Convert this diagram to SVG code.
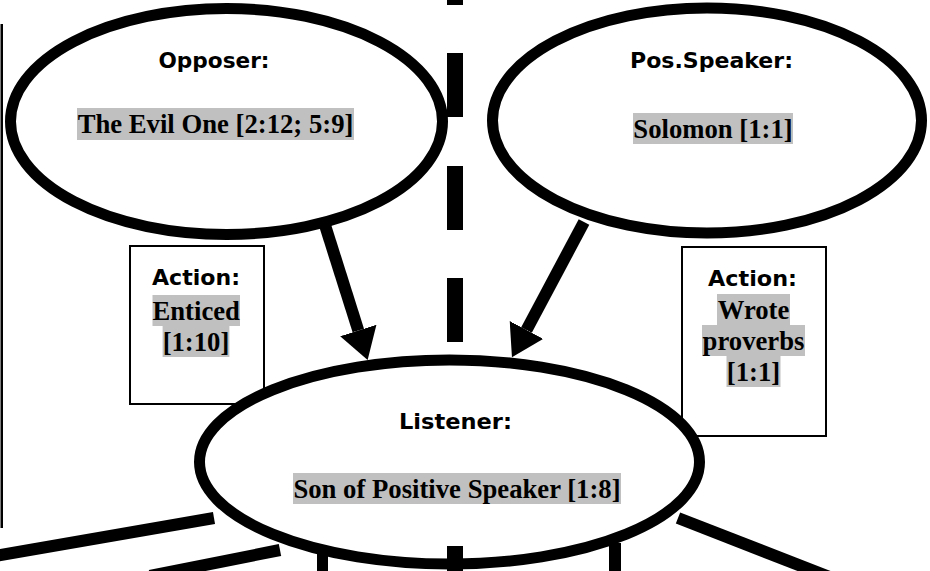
<svg xmlns="http://www.w3.org/2000/svg" width="930" height="571" viewBox="0 0 930 571">
<style>
.ell{fill:#fff;stroke:#000;stroke-width:11}
.box{fill:#fff;stroke:#000;stroke-width:2}
.lbl{font-family:'DejaVu Sans','Liberation Sans',sans-serif;font-weight:bold;font-size:22px;fill:#000;text-anchor:middle}
.val{font-family:'Liberation Serif','Times New Roman',serif;font-weight:bold;font-size:26.7px;fill:#000;text-anchor:middle}
.hl{fill:#c0c0c0}
.thick{stroke:#000;stroke-width:12;fill:none}
.dash{fill:#000}
</style>
<defs>
<marker id="ah" markerUnits="userSpaceOnUse" markerWidth="31" markerHeight="38" refX="0" refY="19" orient="auto" viewBox="0 0 31 38"><path d="M0,0 L31,19 L0,38 z" fill="#000"/></marker>
</defs>
<rect x="0" y="0" width="930" height="571" fill="#fff"/>
<g id="dividers">
<rect x="0.5" y="24" width="2.5" height="504" fill="#000"/>
<rect class="dash" x="447" y="0" width="16" height="5"/>
<rect class="dash" x="447" y="53" width="16" height="64"/>
<rect class="dash" x="447" y="166" width="16" height="64"/>
<rect class="dash" x="447" y="278" width="16" height="64"/>
</g>
<g id="node-action-left">
<rect class="box" x="130" y="246" width="134" height="158"/>
<text class="lbl" x="196" y="285" textLength="88" lengthAdjust="spacingAndGlyphs">Action:</text>
<rect class="hl" x="152.5" y="295" width="87.5" height="31"/>
<rect class="hl" x="162.6" y="326" width="66.8" height="31"/>
<text class="val" x="196.2" y="320">Enticed</text>
<text class="val" x="196" y="351">[1:10]</text>
</g>
<g id="node-action-right">
<rect class="box" x="682" y="247" width="144" height="189"/>
<text class="lbl" x="752.5" y="286" textLength="89" lengthAdjust="spacingAndGlyphs">Action:</text>
<rect class="hl" x="717" y="294" width="73" height="31"/>
<rect class="hl" x="702" y="325" width="103" height="31"/>
<rect class="hl" x="726.5" y="356" width="54" height="31"/>
<text class="val" x="753.5" y="319">Wrote</text>
<text class="val" x="753.5" y="350">proverbs</text>
<text class="val" x="753.5" y="381">[1:1]</text>
</g>
<g id="node-listener">
<ellipse class="ell" cx="449.5" cy="462" rx="250" ry="102"/>
<text class="lbl" x="455.5" y="429" textLength="113" lengthAdjust="spacingAndGlyphs">Listener:</text>
<rect class="hl" x="293" y="473" width="328" height="31"/>
<text class="val" x="457" y="498">Son of Positive Speaker [1:8]</text>
</g>
<g id="connectors">
<line class="thick" x1="324" y1="222" x2="358.3" y2="330.5" marker-end="url(#ah)"/>
<line class="thick" x1="584" y1="222" x2="526.5" y2="330" marker-end="url(#ah)"/>
<line class="thick" x1="-5" y1="556" x2="214" y2="518" stroke-width="11"/>
<line class="thick" x1="280" y1="550" x2="150" y2="576" stroke-width="11"/>
<line class="thick" x1="678" y1="518" x2="832" y2="578" stroke-width="11"/>
<rect class="dash" x="317" y="553" width="11" height="18"/>
<rect class="dash" x="609" y="543" width="12" height="28"/>
<rect class="dash" x="447" y="546" width="16" height="25"/>
</g>
<g id="node-opposer">
<ellipse class="ell" cx="226.5" cy="121.5" rx="216" ry="113"/>
<text class="lbl" x="214" y="68" textLength="111" lengthAdjust="spacingAndGlyphs">Opposer:</text>
<rect class="hl" x="77" y="108" width="277" height="32"/>
<text class="val" x="215.5" y="133">The Evil One [2:12; 5:9]</text>
</g>
<g id="node-posspeaker">
<ellipse class="ell" cx="707" cy="120.5" rx="214.5" ry="112.5"/>
<text class="lbl" x="711.5" y="68" textLength="163" lengthAdjust="spacingAndGlyphs">Pos.Speaker:</text>
<rect class="hl" x="633" y="113" width="160" height="31"/>
<text class="val" x="713" y="138">Solomon [1:1]</text>
</g>
</svg>
